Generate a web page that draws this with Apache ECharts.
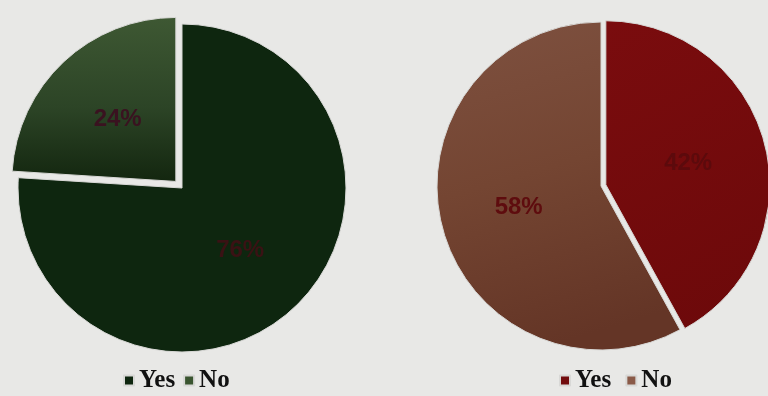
<!DOCTYPE html>
<html>
<head>
<meta charset="utf-8">
<script src="https://cdn.jsdelivr.net/npm/echarts@6/dist/echarts.min.js"></script>
<style>
  html, body { margin: 0; padding: 0; background: #e8e8e6; }
  #chart { width: 768px; height: 396px; }
</style>
</head>
<body>
<div id="chart"></div>
<script>
// Survey answers, two groups, shares in percent
const categories = ['Yes', 'No'];
const leftValues = [76, 24];
const rightValues = [42, 58];

const serif = '"Liberation Serif", "Times New Roman", serif';
const sans = '"Liberation Sans", Arial, sans-serif';

// Slice fills: solid dark tones for "Yes", shaded gradients for "No"
const leftColors = [
  '#0e260f',
  { type: 'linear', x: 0, y: 0, x2: 0, y2: 1,
    colorStops: [{ offset: 0, color: '#3e5833' }, { offset: 0.55, color: '#2c4426' }, { offset: 1, color: '#13260f' }] }
];
const rightColors = [
  { type: 'linear', x: 0, y: 0, x2: 1, y2: 1,
    colorStops: [{ offset: 0, color: '#7a0c0e' }, { offset: 1, color: '#6c090a' }] },
  { type: 'linear', x: 0, y: 0, x2: 0.4, y2: 1,
    colorStops: [{ offset: 0, color: '#7e5140' }, { offset: 0.5, color: '#744532' }, { offset: 1, color: '#643526' }] }
];
const leftLabelColors = ['#3a1214', '#3a1220'];
const rightLabelColors = ['#5c0a0c', '#5e0c0e'];
// the smaller "No" slice on the left and the "Yes" slice on the right are pulled out
const leftPulled = [false, true];
const rightPulled = [true, false];

function buildData(values, colors, labelColors, pulled, suffix) {
  return categories.map((name, i) => ({
    name: name + suffix,
    value: values[i],
    selected: pulled[i],
    itemStyle: { color: colors[i] },
    label: { color: labelColors[i] }
  }));
}

function pieSeries(center, values, colors, labelColors, pulled, offset, suffix) {
  return {
    type: 'pie',
    center,
    radius: 164,
    startAngle: 90,
    clockwise: true,
    selectedMode: 'multiple',
    selectedOffset: offset,
    avoidLabelOverlap: false,
    silent: true,
    animation: false,
    itemStyle: { borderColor: '#d8d8d6', borderWidth: 1 },
    label: {
      show: true,
      position: 'inside',
      formatter: '{c}%',
      fontFamily: sans,
      fontWeight: 'bold',
      fontSize: 24
    },
    labelLine: { show: false },
    emphasis: { disabled: true },
    select: { disabled: false, itemStyle: { borderColor: '#d8d8d6', borderWidth: 1 } },
    data: buildData(values, colors, labelColors, pulled, suffix)
  };
}

const chart = echarts.init(document.getElementById('chart'), null, { renderer: 'canvas' });

const legendBase = {
  bottom: -2,
  itemWidth: 10,
  itemHeight: 10,
  itemGap: 8,
  icon: 'rect',
  textStyle: { fontFamily: serif, fontWeight: 'bold', fontSize: 25, color: '#111' },
  selectedMode: false
};

chart.setOption({
  backgroundColor: '#e8e8e6',
  legend: [
    Object.assign({}, legendBase, {
      left: 118,
      data: [
        { name: 'Yes', itemStyle: { color: '#0e260f' } },
        { name: 'No', itemStyle: { color: '#3a5530' } }
      ]
    }),
    Object.assign({}, legendBase, {
      left: 554,
      data: [
        { name: 'Yes ', itemStyle: { color: '#720c0e' } },
        { name: 'No ', itemStyle: { color: '#8a5a48' } }
      ]
    })
  ],
  series: [
    pieSeries([182, 188], leftValues, leftColors, leftLabelColors, leftPulled, 9, ''),
    pieSeries([601, 186], rightValues, rightColors, rightLabelColors, rightPulled, 5, ' ')
  ]
});
</script>
</body>
</html>
